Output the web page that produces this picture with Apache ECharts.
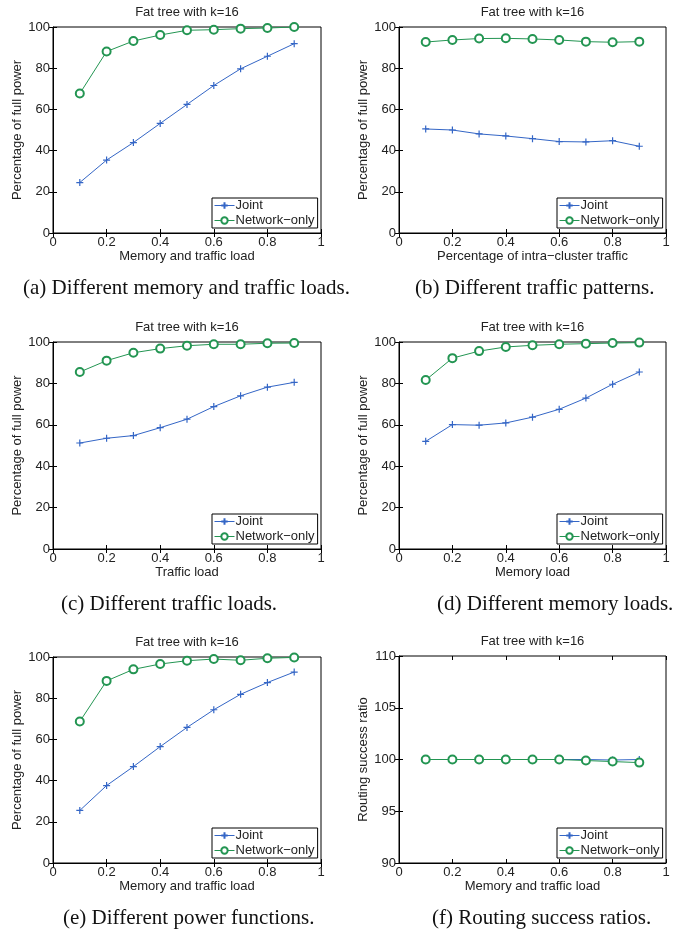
<!DOCTYPE html>
<html>
<head>
<meta charset="utf-8">
<script src="https://cdn.jsdelivr.net/npm/echarts@6/dist/echarts.min.js"></script>
<style>
  html, body { margin: 0; padding: 0; background: #fff; }
  #chart { width: 681px; height: 933px; }
</style>
</head>
<body>
<div id="chart"></div>
<script>
// x values shared by every panel
const loads = [0.1, 0.2, 0.3, 0.4, 0.5, 0.6, 0.7, 0.8, 0.9];

// (a) memory and traffic load
const jointA = [24.5, 35.4, 43.9, 53.2, 62.4, 71.6, 79.7, 85.8, 91.9];
const netA   = [67.7, 88.1, 93.2, 96.1, 98.4, 98.7, 99.2, 99.5, 100];
// (b) intra-cluster traffic
const jointB = [50.5, 50.0, 48.1, 47.1, 45.8, 44.4, 44.2, 44.8, 42.1];
const netB   = [92.7, 93.7, 94.4, 94.5, 94.2, 93.7, 92.9, 92.6, 92.9];
// (c) traffic load
const jointC = [51.2, 53.5, 54.8, 58.6, 62.7, 68.8, 74.0, 78.2, 80.5];
const netC   = [85.5, 91.0, 94.8, 96.8, 98.2, 98.9, 98.9, 99.4, 99.5];
// (d) memory load
const jointD = [52.0, 60.1, 59.8, 60.9, 63.7, 67.5, 72.9, 79.6, 85.5];
const netD   = [81.6, 92.2, 95.6, 97.6, 98.4, 98.9, 99.2, 99.5, 99.7];
// (e) power functions
const jointE = [25.5, 37.6, 46.8, 56.5, 65.8, 74.4, 81.9, 87.6, 92.7];
const netE   = [68.7, 88.4, 94.0, 96.6, 98.2, 99.0, 98.4, 99.4, 99.8];
// (f) routing success ratio
const jointF = [100, 100, 100, 100, 100, 100, 100, 99.95, 100];
const netF   = [100, 100, 100, 100, 100, 100, 99.9, 99.8, 99.7];

const seriesNames = ['Joint', 'Network\u2212only'];
const titleText = 'Fat tree with k=16';
const xNames = ['Memory and traffic load', 'Percentage of intra\u2212cluster traffic', 'Traffic load',
                'Memory load', 'Memory and traffic load', 'Memory and traffic load'];
const yNames = ['Percentage of full power', 'Percentage of full power', 'Percentage of full power',
                'Percentage of full power', 'Percentage of full power', 'Routing success ratio'];
const captions = ['(a) Different memory and traffic loads.', '(b) Different traffic patterns.',
                  '(c) Different traffic loads.', '(d) Different memory loads.',
                  '(e) Different power functions.', '(f) Routing success ratios.'];
const yMin = [0, 0, 0, 0, 0, 90];
const yMax = [100, 100, 100, 100, 100, 110];
const yStep = [20, 20, 20, 20, 20, 5];
const xTickStep = 0.2;

const panels = [
  { joint: jointA, net: netA },
  { joint: jointB, net: netB },
  { joint: jointC, net: netC },
  { joint: jointD, net: netD },
  { joint: jointE, net: netE },
  { joint: jointF, net: netF },
];

// layout of the six plot boxes (px)
const boxes = [
  { left: 53,  top: 27,  width: 268, height: 206 },
  { left: 399, top: 27,  width: 267, height: 206 },
  { left: 53,  top: 342, width: 268, height: 207 },
  { left: 399, top: 342, width: 267, height: 207 },
  { left: 53,  top: 657, width: 268, height: 206 },
  { left: 399, top: 656, width: 267, height: 207 },
];
const captionLeft = [23, 415, 61, 437, 63, 432];

const BLUE = '#3466c6';
const GREEN = '#239552';
const FONT = 'Liberation Sans, Arial, sans-serif';
const TXT = '#222';
const plusPath = 'path://M0,-5L0,5M-5,0L5,0';

const grid = [], xAxis = [], yAxis = [], series = [], legend = [], graphic = [];

boxes.forEach((b, i) => {
  grid.push({ left: b.left, top: b.top, width: b.width, height: b.height,
              show: true, borderColor: '#000', borderWidth: 1, backgroundColor: '#fff' });

  const tick = { show: true, inside: true, length: 4, lineStyle: { color: '#000', width: 1 } };
  // bottom / left axes with labels
  xAxis.push({
    type: 'value', gridIndex: i, min: 0, max: 1, interval: xTickStep, position: 'bottom',
    name: xNames[i], nameLocation: 'middle', nameGap: 17,
    nameTextStyle: { fontFamily: FONT, fontSize: 13, color: TXT },
    axisLine: { show: true, lineStyle: { color: '#000' } },
    axisTick: tick, splitLine: { show: false },
    axisLabel: { margin: 3, fontFamily: FONT, fontSize: 13, color: TXT },
  });
  yAxis.push({
    type: 'value', gridIndex: i, min: yMin[i], max: yMax[i], interval: yStep[i], position: 'left',
    name: yNames[i], nameLocation: 'middle', nameGap: 27,
    nameTextStyle: { fontFamily: FONT, fontSize: 13, color: TXT },
    axisLine: { show: true, lineStyle: { color: '#000' } },
    axisTick: tick, splitLine: { show: false },
    axisLabel: { margin: 3, fontFamily: FONT, fontSize: 13, color: TXT },
  });
  // top / right mirror axes, ticks only
  xAxis.push({
    type: 'value', gridIndex: i, min: 0, max: 1, interval: xTickStep, position: 'top',
    axisLine: { show: false }, axisTick: tick, axisLabel: { show: false }, splitLine: { show: false },
  });
  yAxis.push({
    type: 'value', gridIndex: i, min: yMin[i], max: yMax[i], interval: yStep[i], position: 'right',
    axisLine: { show: false }, axisTick: tick, axisLabel: { show: false }, splitLine: { show: false },
  });

  const p = panels[i];
  series.push({
    name: seriesNames[0], type: 'line', xAxisIndex: i * 2, yAxisIndex: i * 2,
    data: loads.map((x, k) => [x, p.joint[k]]),
    symbol: plusPath, symbolSize: 7,
    lineStyle: { color: BLUE, width: 1 },
    itemStyle: { color: BLUE, borderColor: BLUE, borderWidth: 1.2 },
    z: 3,
  });
  series.push({
    name: seriesNames[1], type: 'line', xAxisIndex: i * 2, yAxisIndex: i * 2,
    data: loads.map((x, k) => [x, p.net[k]]),
    symbol: 'emptyCircle', symbolSize: 8,
    lineStyle: { color: GREEN, width: 1 },
    itemStyle: { color: GREEN, borderColor: GREEN, borderWidth: 1 },
    z: 4,
  });

  legend.push({
    left: b.left + b.width - 109, top: b.top + b.height - 35,
    orient: 'vertical', data: seriesNames, selectedMode: false,
    backgroundColor: '#fff', borderColor: '#000', borderWidth: 1,
    padding: [1, 3, 1, 2], itemGap: 2, itemWidth: 20, itemHeight: 8,
    lineStyle: { width: 1 },
    textStyle: { fontFamily: FONT, fontSize: 13, color: TXT, padding: [0, 0, 0, -4] },
  });

  graphic.push({
    type: 'text', x: b.left + b.width / 2, y: b.top - 15,
    style: { text: titleText, font: '13px ' + FONT, fill: TXT,
             align: 'center', verticalAlign: 'middle', textAlign: 'center', textVerticalAlign: 'middle' },
  });
  graphic.push({
    type: 'text', x: captionLeft[i], y: b.top + b.height + 55,
    style: { text: captions[i], font: '21px "Liberation Serif", "Times New Roman", serif', fill: '#111',
             align: 'left', verticalAlign: 'middle', textAlign: 'left', textVerticalAlign: 'middle' },
  });
});

const chart = echarts.init(document.getElementById('chart'));
chart.setOption({
  animation: false,
  backgroundColor: '#fff',
  grid, xAxis, yAxis, series, legend, graphic,
});
</script>
</body>
</html>
